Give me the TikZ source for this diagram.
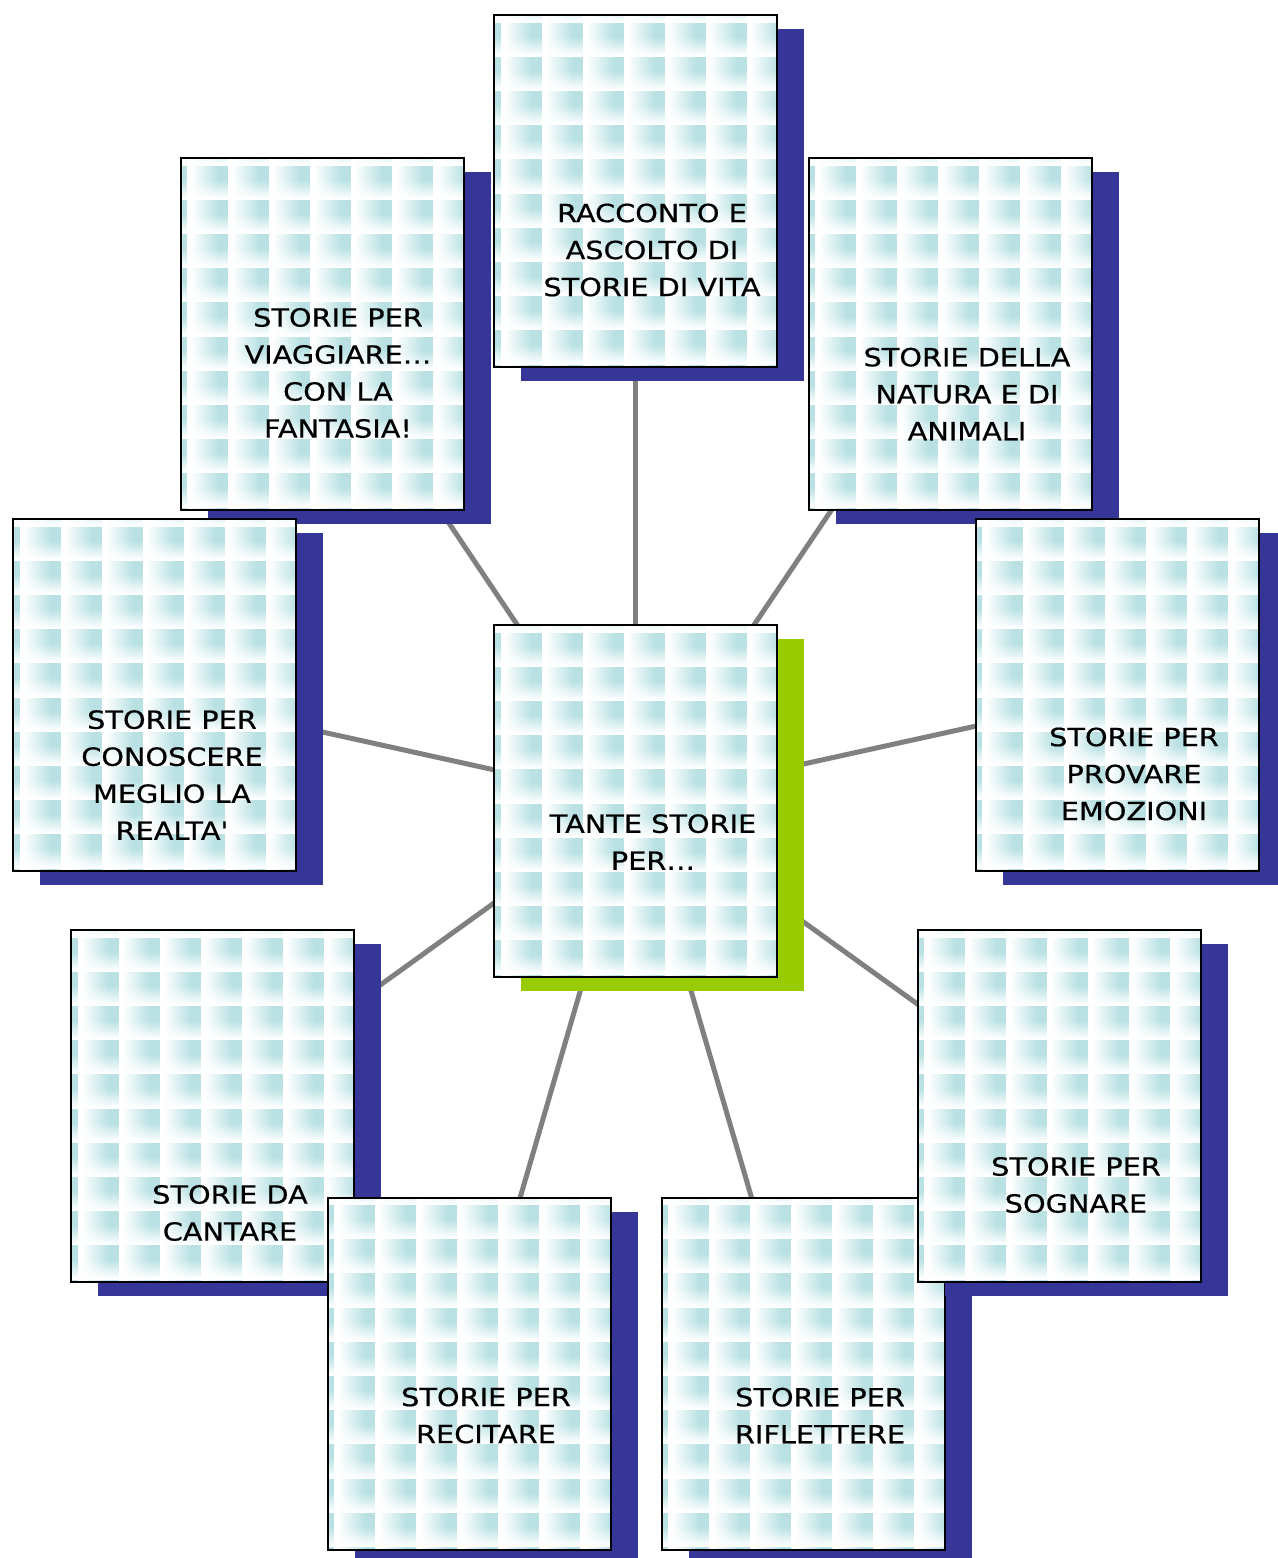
\documentclass[tikz,border=0pt]{standalone}
\usepackage{fontspec}
\setmainfont{DejaVu Sans}[Ligatures=TeXOff, FakeStretch=1.15, FakeBold=0.6]
\usetikzlibrary{calc,shadows,backgrounds}
\definecolor{shblue}{RGB}{54,54,153}
\definecolor{shgreen}{RGB}{153,204,0}
\definecolor{linegray}{RGB}{128,128,128}
% tile: white at left and bottom, teal plateau at upper right
\pgfdeclarefunctionalshading{tileshade}{\pgfpoint{0bp}{0bp}}{\pgfpoint{100bp}{100bp}}{}{
  25 sub 50 div 0.05 sub 0.55 div
  dup 0 lt {pop 0} if dup 1 gt {pop 1} if
  exch 25 sub 50 div 0.08 sub 0.67 div
  dup 0 lt {pop 0} if dup 1 gt {pop 1} if
  mul
  dup 0.275 mul 1 exch sub
  exch dup 0.118 mul 1 exch sub
  exch 0.11 mul 1 exch sub
}
\tikzset{
  tiled/.style={
    path picture={
      \foreach \i in {-1,...,7}{
        \foreach \j in {-1,...,10}{
          \shade[shading=tileshade]
            ($(path picture bounding box.north west)+(7+41*\i,8+34.2*\j)$) rectangle ++(41,34.2);
        }
      }
    }
  },
  card/.style={draw=black, line width=2pt, rectangle, minimum width=283pt, minimum height=352pt,
    inner sep=0pt, tiled, general shadow={fill=shblue, shadow xshift=27pt, shadow yshift=-14pt}},
  centrecard/.style={draw=black, line width=2pt, rectangle, minimum width=283pt, minimum height=352pt,
    inner sep=0pt, tiled, general shadow={fill=shgreen, shadow xshift=27pt, shadow yshift=-14pt}},
  cardtext/.style={align=center, font=\fontsize{25}{37}\selectfont, inner sep=0pt},
  link/.style={draw=linegray, line width=5pt}
}
\begin{document}
\begin{tikzpicture}[x=1pt,y=-1pt]
\useasboundingbox (0,0) rectangle (1277,1558);
% boxes (outer positions in pixels)
\node[card] (top) at (635.5,191) {};
\node[card] (ul) at (322,334) {};
\node[card] (ur) at (950,334) {};
\node[card] (lf) at (154.5,695) {};
\node[card] (rt) at (1117,695) {};
\node[centrecard] (c) at (635.5,801) {};
\node[card] (ll) at (212.5,1106) {};
\node[card] (bl) at (469,1373.5) {};
\node[card] (br) at (803,1373.5) {};
\node[card] (lr) at (1059,1106) {};
% texts
\node[cardtext] (ttop) at (652,250) {RACCONTO E\\ASCOLTO DI\\STORIE DI VITA};
\node[cardtext] (tul) at (338,373) {STORIE PER\\VIAGGIARE…\\CON LA\\FANTASIA!};
\node[cardtext] (tur) at (967,394) {STORIE DELLA\\NATURA E DI\\ANIMALI};
\node[cardtext] (tlf) at (172,775) {STORIE PER\\CONOSCERE\\MEGLIO LA\\REALTA'};
\node[cardtext] (trt) at (1134,774) {STORIE PER\\PROVARE\\EMOZIONI};
\node[cardtext] (tc) at (653,842) {TANTE STORIE\\PER…};
\node[cardtext] (tll) at (230,1213) {STORIE DA\\CANTARE};
\node[cardtext] (tbl) at (486,1415.5) {STORIE PER\\RECITARE};
\node[cardtext] (tbr) at (820,1415.5) {STORIE PER\\RIFLETTERE};
\node[cardtext] (tlr) at (1076,1185) {STORIE PER\\SOGNARE};
% connectors behind everything
\begin{pgfonlayer}{background}
\foreach \n in {top,ul,ur,lf,rt,ll,bl,br,lr}{
  \draw[link] (c.center) -- (\n.center);
}
\end{pgfonlayer}
\end{tikzpicture}
\end{document}
